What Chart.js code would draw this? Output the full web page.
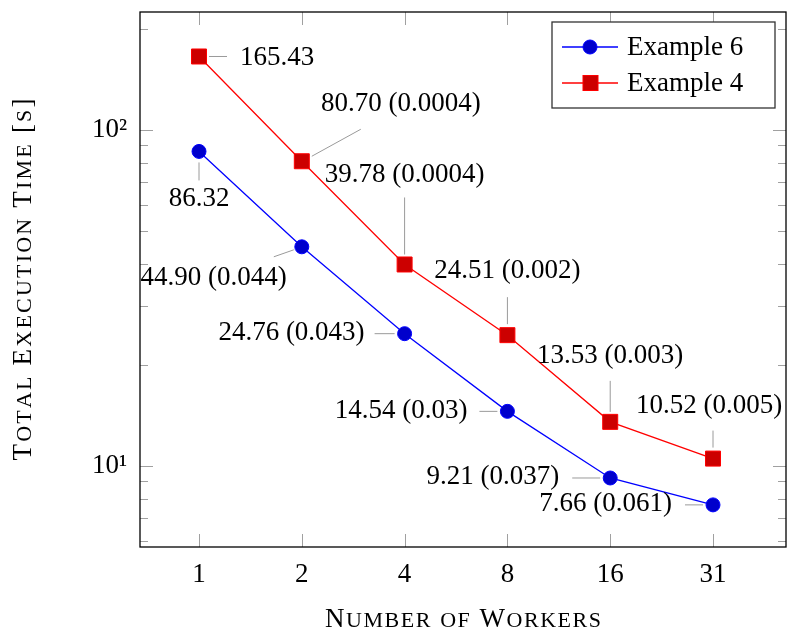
<!DOCTYPE html>
<html>
<head>
<meta charset="utf-8">
<script src="https://cdn.jsdelivr.net/npm/chart.js@4.4.0/dist/chart.umd.min.js"></script>
<style>
  html, body { margin: 0; padding: 0; background: #fff; }
  #wrap { width: 788px; height: 630px; }
</style>
</head>
<body>
<div id="wrap"><canvas id="chart" width="788" height="630"></canvas></div>
<script>
// data
var workers = ['1', '2', '4', '8', '16', '31'];
var example6 = [86.32, 44.90, 24.76, 14.54, 9.21, 7.66];
var example4 = [165.43, 80.70, 39.78, 24.51, 13.53, 10.52];
var example6Err = ['', '0.044', '0.043', '0.03', '0.037', '0.061'];
var example4Err = ['', '0.0004', '0.0004', '0.002', '0.003', '0.005'];
var majorTicks = [10, 100];
var minorTicks = [6, 7, 8, 9, 20, 30, 40, 50, 60, 70, 80, 90, 200];

// where each pin (leader line + label) sits relative to its point
var pins6 = [
    { line: [0, 11, 0, 29], text: [0, 47], align: 'center' },
    { line: [-8, 3, -28, 10], text: [-15, 31], align: 'right' },
    { line: [-10, 0, -30, 0], text: [-40, -1], align: 'right' },
    { line: [-10, 0, -28, 0], text: [-40, 0], align: 'right' },
    { line: [-10, 0, -38, 0], text: [-51, -1], align: 'right' },
    { line: [-10, 0, -28, 0], text: [-41, -1], align: 'right' }
];
var pins4 = [
    { line: [10, 0, 28, 0], text: [41, 1], align: 'left' },
    { line: [10, -5, 59, -32], text: [99, -57], align: 'center' },
    { line: [0, -10, 0, -67], text: [0, -90], align: 'center' },
    { line: [0, -11, 0, -38], text: [0, -64], align: 'center' },
    { line: [0, -10, 0, -41], text: [0, -66], align: 'center' },
    { line: [0, -11, 0, -28], text: [-4, -53], align: 'center' }
];

var FONT = 'Liberation Serif';
Chart.defaults.font.family = FONT;
Chart.defaults.font.size = 27;
Chart.defaults.color = '#000';

function points(values) {
    return values.map(function (v, i) { return { x: i, y: v }; });
}

function pinText(v, err) {
    return v.toFixed(2) + (err ? ' (' + err + ')' : '');
}

// small caps drawn letter by letter, stretched to a target width
function smallCaps(ctx, text, size, target) {
    var small = Math.round(size * 0.8);
    var parts = text.split('').map(function (c) {
        var lower = c !== c.toUpperCase();
        return { c: lower ? c.toUpperCase() : c, size: lower ? small : size };
    });
    var natural = 0;
    parts.forEach(function (p) {
        ctx.font = p.size + 'px "' + FONT + '"';
        p.w = ctx.measureText(p.c).width;
        natural += p.w;
    });
    var gap = (target - natural) / (parts.length - 1);
    var x = -target / 2;
    ctx.textAlign = 'left';
    ctx.textBaseline = 'alphabetic';
    parts.forEach(function (p) {
        ctx.font = p.size + 'px "' + FONT + '"';
        ctx.fillText(p.c, x, 0);
        x += p.w + gap;
    });
}

var pinsPlugin = {
    id: 'pins',
    afterDatasetsDraw: function (chart) {
        var ctx = chart.ctx, a = chart.chartArea;
        var sets = [[example6, example6Err, pins6], [example4, example4Err, pins4]];
        ctx.save();
        ctx.beginPath();
        ctx.rect(a.left, a.top, a.right - a.left, a.bottom - a.top);
        ctx.clip();
        ctx.font = '27px "' + FONT + '"';
        ctx.textBaseline = 'middle';
        sets.forEach(function (s, di) {
            var meta = chart.getDatasetMeta(di);
            meta.data.forEach(function (pt, j) {
                var p = s[2][j];
                ctx.strokeStyle = '#9a9a9a';
                ctx.lineWidth = 1;
                ctx.beginPath();
                ctx.moveTo(pt.x + p.line[0], pt.y + p.line[1]);
                ctx.lineTo(pt.x + p.line[2], pt.y + p.line[3]);
                ctx.stroke();
                ctx.fillStyle = '#000';
                ctx.textAlign = p.align;
                ctx.fillText(pinText(s[0][j], s[1][j]), pt.x + p.text[0], pt.y + p.text[1]);
            });
        });
        ctx.restore();
    }
};

var framePlugin = {
    id: 'frame',
    afterDatasetsDraw: function (chart) {
        var ctx = chart.ctx, a = chart.chartArea;
        var xs = chart.scales.x, ys = chart.scales.y;
        ctx.save();
        ctx.strokeStyle = '#a0a0a0';
        ctx.lineWidth = 1;
        ctx.beginPath();
        workers.forEach(function (w, i) {
            var x = Math.round(xs.getPixelForValue(i)) + 0.5;
            ctx.moveTo(x, a.bottom); ctx.lineTo(x, a.bottom - 13);
            ctx.moveTo(x, a.top); ctx.lineTo(x, a.top + 13);
        });
        majorTicks.forEach(function (v) {
            var y = Math.round(ys.getPixelForValue(v)) + 0.5;
            ctx.moveTo(a.left, y); ctx.lineTo(a.left + 13, y);
            ctx.moveTo(a.right, y); ctx.lineTo(a.right - 13, y);
        });
        minorTicks.forEach(function (v) {
            var y = Math.round(ys.getPixelForValue(v)) + 0.5;
            ctx.moveTo(a.left, y); ctx.lineTo(a.left + 8, y);
            ctx.moveTo(a.right, y); ctx.lineTo(a.right - 8, y);
        });
        ctx.stroke();
        ctx.strokeStyle = '#000';
        ctx.lineWidth = 1.3;
        ctx.strokeRect(a.left, a.top, a.right - a.left, a.bottom - a.top);

        // x tick labels, placed by the x scale
        ctx.fillStyle = '#000';
        ctx.font = '27px "' + FONT + '"';
        ctx.textAlign = 'center';
        ctx.textBaseline = 'middle';
        workers.forEach(function (w, i) {
            ctx.fillText(w, xs.getPixelForValue(i), a.bottom + 28);
        });

        // legend box in the upper right corner
        var bx = 552, by = 22, bw = 223, bh = 86;
        ctx.fillStyle = '#fff';
        ctx.fillRect(bx, by, bw, bh);
        ctx.strokeStyle = '#333';
        ctx.lineWidth = 1.3;
        ctx.strokeRect(bx, by, bw, bh);
        chart.data.datasets.forEach(function (ds, i) {
            var y = by + 25 + i * 36;
            ctx.strokeStyle = ds.borderColor;
            ctx.lineWidth = ds.borderWidth;
            ctx.beginPath();
            ctx.moveTo(bx + 10, y); ctx.lineTo(bx + 66, y);
            ctx.stroke();
            ctx.fillStyle = ds.pointBackgroundColor;
            ctx.strokeStyle = ds.pointBorderColor;
            ctx.lineWidth = 1;
            if (ds.pointStyle === 'rect') {
                ctx.fillRect(bx + 31, y - 7.5, 15, 15);
                ctx.strokeRect(bx + 31, y - 7.5, 15, 15);
            } else {
                ctx.beginPath();
                ctx.arc(bx + 38, y, 7, 0, Math.PI * 2);
                ctx.fill(); ctx.stroke();
            }
            ctx.fillStyle = '#000';
            ctx.font = '27px "' + FONT + '"';
            ctx.textAlign = 'left';
            ctx.textBaseline = 'middle';
            ctx.fillText(ds.label, bx + 75, y + 1);
        });
        ctx.restore();
    },
    afterDraw: function (chart) {
        var ctx = chart.ctx, a = chart.chartArea;
        ctx.save();
        ctx.fillStyle = '#000';
        ctx.translate((a.left + a.right) / 2, 627);
        smallCaps(ctx, 'Number of Workers', 27, 276);
        ctx.restore();
        ctx.save();
        ctx.fillStyle = '#000';
        ctx.translate(31, (a.top + a.bottom) / 2);
        ctx.rotate(-Math.PI / 2);
        smallCaps(ctx, 'Total Execution Time [s]', 27, 362);
        ctx.restore();
    }
};

var ctx = document.getElementById('chart').getContext('2d');
var graph = new Chart(ctx, {
    type: 'line',
    data: {
        datasets: [
            {
                label: 'Example 6',
                data: points(example6),
                borderColor: '#0000ff',
                borderWidth: 1.3,
                pointStyle: 'circle',
                pointRadius: 7,
                pointBackgroundColor: '#0000cc',
                pointBorderColor: '#0000ff',
                pointBorderWidth: 1,
                tension: 0
            },
            {
                label: 'Example 4',
                data: points(example4),
                borderColor: '#ff0000',
                borderWidth: 1.3,
                pointStyle: 'rect',
                pointRadius: 10.6,
                pointBackgroundColor: '#cc0000',
                pointBorderColor: '#ff0000',
                pointBorderWidth: 1,
                tension: 0
            }
        ]
    },
    options: {
        responsive: false,
        animation: false,
        events: [],
        layout: { autoPadding: false, padding: { top: 12, right: 2, left: 0, bottom: 0 } },
        plugins: {
            legend: { display: false },
            tooltip: { enabled: false }
        },
        scales: {
            x: {
                type: 'linear',
                min: -0.574,
                max: 5.71,
                grid: { display: false, drawTicks: false },
                border: { display: false },
                ticks: { display: false },
                afterBuildTicks: function (s) {
                    s.ticks = workers.map(function (w, i) { return { value: i }; });
                },
                afterFit: function (s) {
                    s.height = 83;
                    s.paddingLeft = 0;
                    s.paddingRight = 0;
                }
            },
            y: {
                type: 'logarithmic',
                min: 5.74,
                max: 224.4,
                grid: { display: false, drawTicks: false },
                border: { display: false },
                ticks: {
                    autoSkip: false,
                    padding: 13,
                    callback: function (v) {
                        return v === 10 ? '10\u00b9' : '10\u00b2';
                    }
                },
                afterBuildTicks: function (s) {
                    s.ticks = majorTicks.map(function (v) { return { value: v }; });
                },
                afterFit: function (s) {
                    s.width = 140;
                    s.paddingTop = 0;
                    s.paddingBottom = 0;
                }
            }
        }
    },
    plugins: [pinsPlugin, framePlugin]
});
</script>
</body>
</html>
